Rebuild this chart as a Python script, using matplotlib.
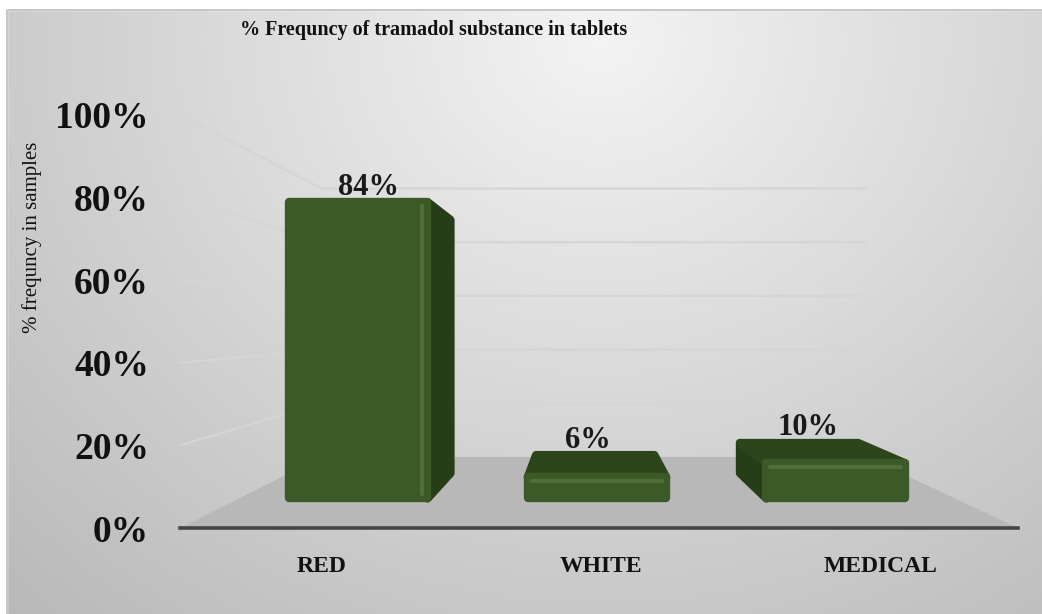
import numpy as np
import matplotlib.pyplot as plt
from matplotlib.patches import Polygon, Rectangle

# data
categories = ['RED', 'WHITE', 'MEDICAL']
values = [84, 6, 10]
value_labels = ['84%', '6%', '10%']
y_ticks = [0, 20, 40, 60, 80, 100]
tick_labels = ['0%', '20%', '40%', '60%', '80%', '100%']
title = '% Frequncy of tramadol substance in tablets'
ylabel = '% frequncy in samples'

W, H = 1042, 614
fig = plt.figure(figsize=(W / 100, H / 100), dpi=100)
ax = fig.add_axes([0, 0, 1, 1])
ax.set_xlim(0, W)
ax.set_ylim(H, 0)
ax.axis('off')

# chart area background (radial grey gradient)
yy, xx = np.mgrid[0:H, 0:W]
r = np.sqrt(((xx - 600) / 720.0) ** 2 + ((yy - 40) / 640.0) ** 2)
shade = 0.955 - 0.19 * np.clip(r, 0, 1.3)
bg = np.dstack([shade, shade, shade])
ax.imshow(bg, extent=(0, W, H, 0), zorder=0, aspect='auto')
ax.add_patch(Rectangle((0, 0), W, 10, color='white', zorder=1))
ax.add_patch(Rectangle((0, 0), 7, H, color='white', zorder=1))
ax.add_patch(Rectangle((7, 10), W, H, fill=False, ec='#bdbdbd', lw=1.2, zorder=1))

# simple perspective projection of the 3d column chart
X0, X1 = 180, 1018      # front plane, category axis
Y0, PX = 528, 4.13      # front plane, value axis (pixels per %)
VX, VY = 585, 325       # vanishing point
K = 1 / 0.65 - 1        # back wall scale = 0.65
n = len(categories)


def proj(c, v, d):
    fx = X0 + c * (X1 - X0) / n
    fy = Y0 - v * PX
    s = 1.0 / (1.0 + K * d)
    return VX + (fx - VX) * s, VY + (fy - VY) * s


# floor
floor = [proj(0, 0, 0), proj(n, 0, 0), proj(n, 0, 1), proj(0, 0, 1)]
ax.add_patch(Polygon(floor, closed=True, fc='#b8b8b8', ec='none', zorder=2))

# gridlines on left wall and back wall
for v in y_ticks[1:]:
    a, b, c = proj(0, v, 0), proj(0, v, 1), proj(n, v, 1)
    ax.plot([a[0], b[0], c[0]], [a[1], b[1], c[1]], color='#d5d5d5', lw=1.6,
            solid_capstyle='butt', zorder=2)

# value axis line at the front
p, q = proj(0, 0, 0), proj(n, 0, 0)
ax.plot([p[0], q[0]], [p[1], q[1]], color='#454545', lw=2.6, zorder=3)

# bars
front_c, side_c, top_c, hi_c = '#3c5a27', '#263e18', '#2c461c', '#5f8049'
half_w = 0.29
d_f, d_b = 0.316, 0.687
for i, (cat, v, lab) in enumerate(zip(categories, values, value_labels)):
    cx = i + 0.5
    l, rr = cx - half_w, cx + half_w
    front = [proj(l, 0, d_f), proj(rr, 0, d_f), proj(rr, v, d_f), proj(l, v, d_f)]
    fcx = (front[0][0] + front[1][0]) / 2
    faces = []
    if fcx < VX - 20:
        side = [proj(rr, 0, d_f), proj(rr, v, d_f), proj(rr, v, d_b), proj(rr, 0, d_b)]
        faces.append((side, side_c))
        edge_side = (front[1], front[2])
    elif fcx > VX + 20:
        side = [proj(l, 0, d_f), proj(l, v, d_f), proj(l, v, d_b), proj(l, 0, d_b)]
        faces.append((side, side_c))
        edge_side = (front[0], front[3])
    else:
        edge_side = None
    top_visible = proj(cx, v, d_f)[1] > VY
    if top_visible:
        top = [proj(l, v, d_f), proj(rr, v, d_f), proj(rr, v, d_b), proj(l, v, d_b)]
        faces.append((top, top_c))
    faces.append((front, front_c))
    for poly, col in faces:
        ax.add_patch(Polygon(poly, closed=True, fc=col, ec=col, lw=6,
                             joinstyle='round', zorder=4))
    # bevel highlights
    if top_visible:
        (x1, y1), (x2, y2) = front[3], front[2]
        ax.plot([x1 + 4, x2 - 4], [y1 + 4, y2 + 4], color=hi_c, lw=3,
                alpha=0.55, solid_capstyle='round', zorder=5)
    elif edge_side is not None:
        (x1, y1), (x2, y2) = edge_side
        off = -5 if fcx < VX else 5
        ax.plot([x1 + off, x2 + off], [y1 - 4, y2 + 4], color=hi_c, lw=3,
                alpha=0.55, solid_capstyle='round', zorder=5)

    lx, ly = proj(cx, v, (d_f + d_b) / 2)
    ax.text(lx - 8, ly - 17, lab, ha='center', va='baseline',
            fontfamily='Liberation Serif', fontweight='bold', fontsize=22,
            color='#1a1a1a', zorder=6)
    bx, by = proj(cx, 0, 0)
    ax.text(bx + 2, by + 38, cat, ha='center', va='center',
            fontfamily='Liberation Serif', fontweight='bold', fontsize=17,
            color='#111111', zorder=6)

# value axis labels
for v, t in zip(y_ticks, tick_labels):
    x, y = proj(0, v, 0)
    ax.text(149, y + 4, t, ha='right', va='center',
            fontfamily='Liberation Serif', fontweight='bold', fontsize=27,
            color='#111111', zorder=6)

ax.text(32, 237, ylabel, rotation=90, ha='center', va='center',
        fontfamily='Liberation Serif', fontsize=15, color='#111111', zorder=6)
ax.text(434, 30, title, ha='center', va='center',
        fontfamily='Liberation Serif', fontweight='bold', fontsize=14.5,
        color='#111111', zorder=6)

fig.savefig('out.png', dpi=100)
